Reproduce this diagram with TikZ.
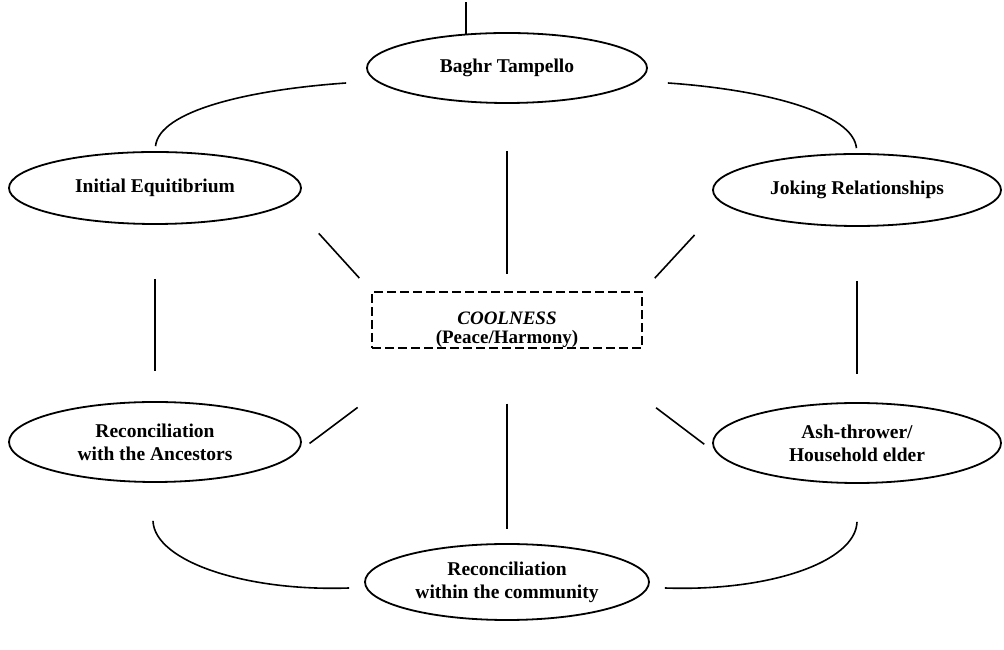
\documentclass[tikz,border=0pt]{standalone}
\usepackage{fontspec}
\setmainfont{Liberation Serif}
\usetikzlibrary{shapes.geometric,calc}

\begin{document}
\begin{tikzpicture}[x=1pt, y=1pt,
    stage/.style={ellipse, draw, line width=1.8pt, inner sep=0pt, align=center,
        font=\fontsize{19.5}{23}\selectfont\bfseries},
    spoke/.style={line width=1.6pt}]
    \useasboundingbox (0,0) rectangle (1004,650);
    % centre
    \node[draw, line width=1.2pt, dash pattern=on 9pt off 4pt, inner sep=0pt,
        minimum width=270pt, minimum height=56pt, align=center,
        font=\fontsize{19}{19}\selectfont\bfseries] (cool) at (507,330)
        {\rule{0pt}{33pt}\textit{COOLNESS}\\(Peace/Harmony)};
    % ring
    \node[stage, minimum width=280pt, minimum height=70pt] (baghr) at (507,582) {Baghr Tampello};
    \node[stage, minimum width=292pt, minimum height=72pt] (init) at (155,462) {Initial Equitibrium};
    \node[stage, minimum width=288pt, minimum height=72pt] (joking) at (857,460) {Joking Relationships};
    \node[stage, minimum width=292pt, minimum height=80pt] (ancestors) at (155,208)
        {Reconciliation\\with the Ancestors};
    \node[stage, minimum width=288pt, minimum height=80pt] (ash) at (857,207)
        {Ash-thrower/\\Household elder};
    \node[stage, minimum width=284pt, minimum height=76pt] (community) at (507,68)
        {Reconciliation\\within the community};
    % top tick
    \draw[spoke] (baghr.140) -- ++(0,32);
    % arcs
    \draw[spoke, shorten <=5pt] (init.north) .. controls +(84:40) and +(184:100)
        .. ($(baghr.west)+(-20,-15)$);
    \draw[spoke, shorten <=5pt] (joking.north) .. controls +(96:40) and +(-4:100)
        .. ($(baghr.east)+(20,-15)$);
    \draw[spoke] ($(ancestors.south)+(-2,-38)$) .. controls +(-88:40) and +(182:105)
        .. ($(community.west)+(-15,-6)$);
    \draw[spoke] ($(ash.south)+(0,-38)$) .. controls +(-92:40) and +(-2:105)
        .. ($(community.east)+(15,-6)$);
    % sides
    \draw[spoke, shorten <=54pt, shorten >=30pt] (init.south) -- (ancestors.north);
    \draw[spoke, shorten <=54pt, shorten >=28pt] (joking.south) -- (ash.north);
    % spokes
    \draw[spoke, shorten <=47pt, shorten >=17pt] (baghr.south) -- (cool.north);
    \draw[spoke, shorten <=55pt, shorten >=14pt] (cool.south) -- (community.north);
    \draw[spoke, shorten <=42pt, shorten >=18pt] (init.-6) -- (cool.north west);
    \draw[spoke, shorten <=42pt, shorten >=18pt] (joking.186) -- (cool.north east);
    \draw[spoke, shorten <=18pt, shorten >=98pt] (ancestors.-5) -- (cool.-158);
    \draw[spoke, shorten <=18pt, shorten >=98pt] (ash.185) -- (cool.-22);
\end{tikzpicture}
\end{document}
